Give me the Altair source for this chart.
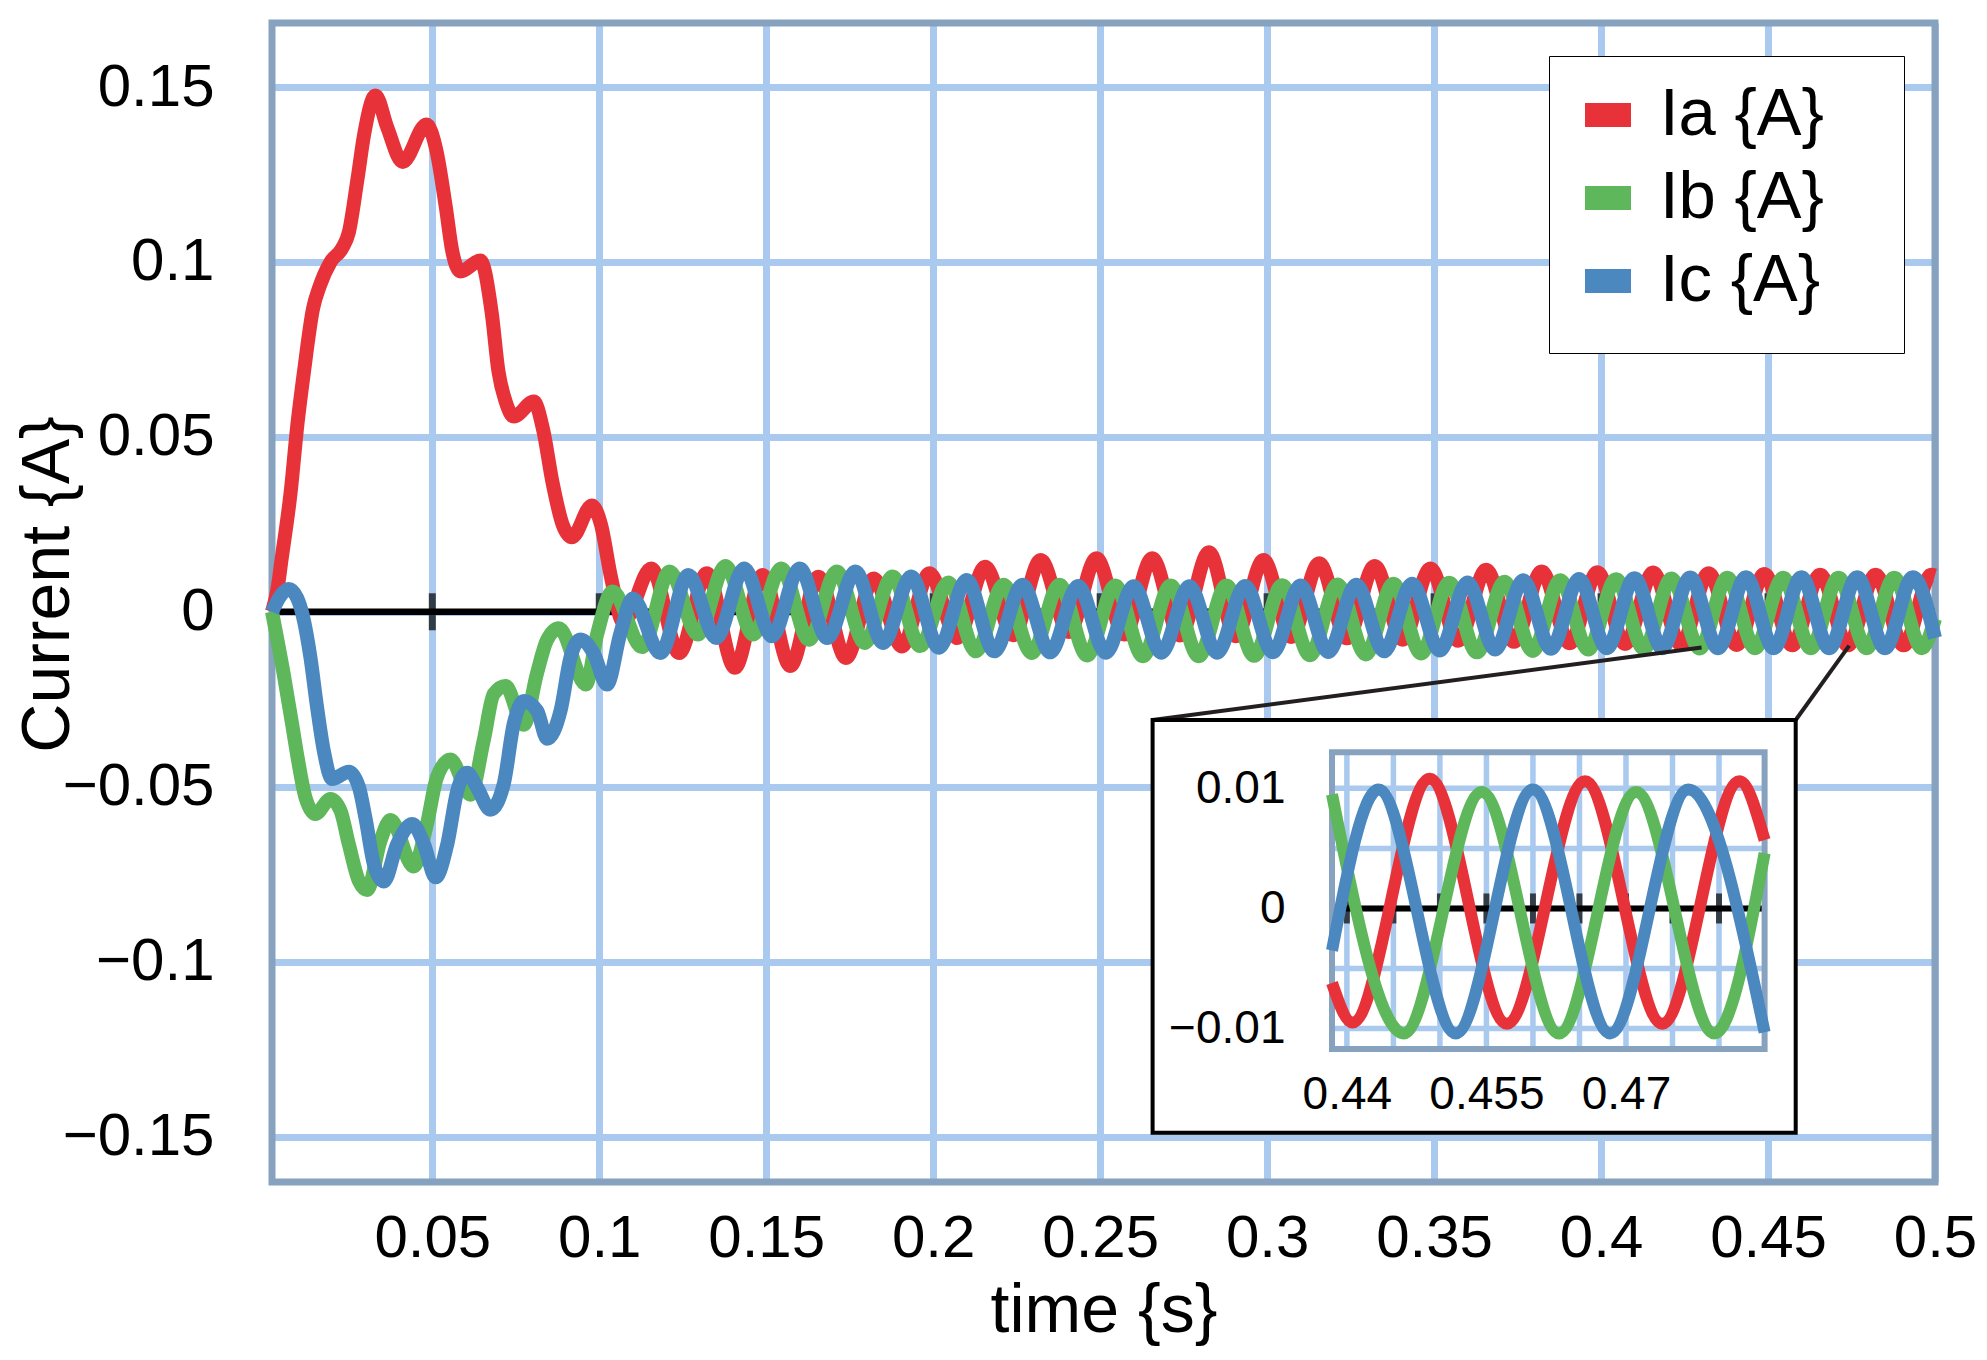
import altair as alt
import pandas as pd

FONT = "Liberation Sans"
NAMES = ["Ia {A}", "Ib {A}", "Ic {A}"]
COLORS = ["#e8323a", "#5eb75b", "#4a88bf"]
GRID_BLUE = "#a9c9ee"
FRAME_BLUE = "#86a2bf"

# plot area in pixels
W, H = 1663, 1159

X_DOMAIN = [0.002, 0.5]
Y_DOMAIN = [-0.163, 0.1683]
X_TICKS = [0.05, 0.1, 0.15, 0.2, 0.25, 0.3, 0.35, 0.4, 0.45, 0.5]
Y_TICKS = [-0.15, -0.1, -0.05, 0, 0.05, 0.1, 0.15]
ZERO_TICKS = [0.05, 0.1, 0.15, 0.2, 0.25, 0.3, 0.35, 0.4, 0.45]

# Ia: transient readings, then the 60 Hz peaks / troughs
IA_T = [0.002, 0.0036, 0.0049, 0.0076, 0.0096, 0.0116, 0.0143, 0.0163, 0.0196, 0.0230,
        0.0250, 0.0276, 0.0296, 0.0330, 0.0365, 0.0411, 0.0483, 0.0512, 0.0540, 0.0560,
        0.0584, 0.0644, 0.0678, 0.0698, 0.0720, 0.0744, 0.0804, 0.0832, 0.0860, 0.0890,
        0.0918, 0.0978, 0.1005, 0.1035, 0.1072,
        0.1156, 0.1239, 0.1322, 0.1406, 0.1489, 0.1572, 0.1656, 0.1739, 0.1822, 0.1906,
        0.1989, 0.2072, 0.2156, 0.2239, 0.2322, 0.2406, 0.2489, 0.2572, 0.2656, 0.2739,
        0.2826, 0.2906, 0.2989, 0.3072, 0.3156, 0.3239, 0.3322, 0.3406, 0.3489, 0.3572,
        0.3656, 0.3739, 0.3822, 0.3906, 0.3989, 0.4072, 0.4156, 0.4239, 0.4322, 0.4406,
        0.4489, 0.4572, 0.4656, 0.4739, 0.4822, 0.4906, 0.4989, 0.5]
IA_V = [0.0, 0.0063, 0.0152, 0.0343, 0.0535, 0.0688, 0.0867, 0.0931, 0.1001, 0.1039,
        0.1084, 0.1237, 0.1365, 0.1476, 0.1385, 0.1286, 0.1393, 0.1320, 0.1160, 0.1030,
        0.0973, 0.1004, 0.0854, 0.0688, 0.0600, 0.0558, 0.0601, 0.0520, 0.0370, 0.0250,
        0.0213, 0.0304, 0.0250, 0.0100, -0.0030,
        0.0124, -0.0118, 0.0110, -0.0160, 0.0105, -0.0155, 0.0100, -0.0132, 0.0095, -0.0099,
        0.0110, -0.0075, 0.0129, -0.0067, 0.0148, -0.0058, 0.0153, -0.0065, 0.0153, -0.0068,
        0.0170, -0.0070, 0.0148, -0.0072, 0.0139, -0.0076, 0.0131, -0.0080, 0.0124, -0.0083,
        0.0120, -0.0086, 0.0115, -0.0090, 0.0113, -0.0092, 0.0112, -0.0094, 0.0110, -0.0095,
        0.0108, -0.0096, 0.0106, -0.0096, 0.0106, -0.0096, 0.0106, 0.0104]

IB_T = [0.002, 0.0055, 0.0080, 0.0100, 0.0120, 0.0150, 0.0195, 0.0225, 0.0250, 0.0280,
        0.0305, 0.0345, 0.0375, 0.0444, 0.0484, 0.0514, 0.0554, 0.0614, 0.0654, 0.0684,
        0.0719, 0.0774, 0.0813, 0.0843, 0.0879, 0.0960, 0.0994, 0.1040,
        0.1128, 0.1211, 0.1295, 0.1378, 0.1461, 0.1545, 0.1628, 0.1711, 0.1795, 0.1878,
        0.1961, 0.2045, 0.2128, 0.2211, 0.2295, 0.2378, 0.2461, 0.2545, 0.2628, 0.2711,
        0.2795, 0.2878, 0.2961, 0.3045, 0.3128, 0.3211, 0.3295, 0.3378, 0.3461, 0.3545,
        0.3628, 0.3711, 0.3795, 0.3878, 0.3961, 0.4045, 0.4128, 0.4211, 0.4295, 0.4378,
        0.4461, 0.4545, 0.4628, 0.4711, 0.4795, 0.4878, 0.4961, 0.5]
IB_V = [0.0, -0.0178, -0.0320, -0.0435, -0.0530, -0.0578, -0.0535, -0.0568, -0.0664, -0.0769,
        -0.0795, -0.0654, -0.0595, -0.0728, -0.0607, -0.0473, -0.0422, -0.0523, -0.0368, -0.0235,
        -0.0212, -0.0323, -0.0178, -0.0082, -0.0047, -0.0208, -0.0063, 0.0058,
        -0.0101, 0.0115, -0.0065, 0.0131, -0.0065, 0.0124, -0.0080, 0.0115, -0.0089, 0.0101,
        -0.0098, 0.0084, -0.0113, 0.0077, -0.0118, 0.0077, -0.0125, 0.0075, -0.0127, 0.0075,
        -0.0127, 0.0075, -0.0126, 0.0076, -0.0124, 0.0078, -0.0122, 0.0080, -0.0119, 0.0083,
        -0.0116, 0.0086, -0.0112, 0.0090, -0.0108, 0.0093, -0.0106, 0.0095, -0.0105, 0.0097,
        -0.0104, 0.0097, -0.0104, 0.0097, -0.0104, 0.0097, -0.0104, -0.0020]

IC_T = [0.002, 0.0045, 0.0070, 0.0095, 0.0112, 0.0135, 0.0155, 0.0175, 0.0200, 0.0250,
        0.0280, 0.0300, 0.0325, 0.0355, 0.0395, 0.0440, 0.0475, 0.0510, 0.0545, 0.0575,
        0.0604, 0.0634, 0.0674, 0.0714, 0.0744, 0.0774, 0.0814, 0.0844, 0.0884, 0.0914,
        0.0944, 0.0984, 0.1023, 0.1063,
        0.1100, 0.1183, 0.1267, 0.1350, 0.1434, 0.1517, 0.1600, 0.1683, 0.1767, 0.1850,
        0.1934, 0.2017, 0.2100, 0.2183, 0.2267, 0.2350, 0.2434, 0.2517, 0.2600, 0.2683,
        0.2767, 0.2850, 0.2934, 0.3017, 0.3100, 0.3183, 0.3267, 0.3350, 0.3434, 0.3517,
        0.3600, 0.3683, 0.3767, 0.3850, 0.3934, 0.4017, 0.4100, 0.4183, 0.4267, 0.4350,
        0.4434, 0.4517, 0.4600, 0.4683, 0.4767, 0.4850, 0.4934, 0.5]
IC_V = [0.0, 0.0045, 0.0065, 0.0040, -0.0010, -0.0130, -0.0273, -0.0397, -0.0478, -0.0457,
        -0.0500, -0.0590, -0.0721, -0.0771, -0.0664, -0.0607, -0.0664, -0.0759, -0.0664, -0.0511,
        -0.0460, -0.0502, -0.0566, -0.0492, -0.0320, -0.0255, -0.0283, -0.0363, -0.0283, -0.0130,
        -0.0079, -0.0120, -0.0208, -0.0063,
        0.0038, -0.0118, 0.0105, -0.0075, 0.0124, -0.0070, 0.0124, -0.0075, 0.0115, -0.0089,
        0.0101, -0.0103, 0.0091, -0.0113, 0.0077, -0.0116, 0.0074, -0.0117, 0.0073, -0.0117,
        0.0073, -0.0117, 0.0074, -0.0116, 0.0075, -0.0115, 0.0077, -0.0113, 0.0080, -0.0111,
        0.0084, -0.0108, 0.0090, -0.0106, 0.0094, -0.0104, 0.0096, -0.0104, 0.0098, -0.0104,
        0.0099, -0.0104, 0.0099, -0.0104, 0.0099, -0.0104, 0.0099, -0.0075]

# inset window and the values read at its left / right edges
INSET_X_DOMAIN = [0.4384, 0.4849]
INSET_Y_DOMAIN = [-0.0117, 0.013]
INSET_X_LABELS = [0.44, 0.455, 0.47]
INSET_Y_LABELS = [-0.01, 0, 0.01]
INSET_GRID_X = [0.44, 0.445, 0.45, 0.455, 0.46, 0.465, 0.47, 0.475, 0.48]
INSET_GRID_Y = [-0.01, -0.005, 0, 0.005, 0.01]
IA_EDGE = [-0.0062, 0.0057]
IB_EDGE = [0.0095, 0.0046]
IC_EDGE = [-0.0035, -0.0103]

# points of the main plot the zoom lines start from
ZOOM_FROM_T = [0.4301, 0.4743]
ZOOM_FROM_I = [-0.0102, -0.0097]

# layout of the inset, pixels inside the plot area: left, right, top, bottom
INSET_PLOT = (1060, 1492.6, 729.3, 1026)
INSET_BOX = (880.6, 1523.7, 697, 1109.7)

SERIES = [(NAMES[0], IA_T, IA_V, IA_EDGE),
          (NAMES[1], IB_T, IB_V, IB_EDGE),
          (NAMES[2], IC_T, IC_V, IC_EDGE)]

main_df = pd.concat(
    [pd.DataFrame({"t": ts, "i": vs, "series": name}) for name, ts, vs, _ in SERIES]
)

inset_parts = []
for name, ts, vs, edge in SERIES:
    lo, hi = INSET_X_DOMAIN
    inner = [(t, v) for t, v in zip(ts, vs) if lo < t < hi]
    rows = [(lo, edge[0])] + inner + [(hi, edge[1])]
    inset_parts.append(
        pd.DataFrame({"t": [r[0] for r in rows], "i": [r[1] for r in rows], "series": name})
    )
inset_df = pd.concat(inset_parts)

one = pd.DataFrame({"k": [0]})

# the blank title on the right only widens the legend box
color = alt.Color(
    "series:N",
    scale=alt.Scale(domain=NAMES, range=COLORS),
    legend=alt.Legend(
        title="\u00a0",
        titleOrient="right",
        titleFontSize=10,
        titlePadding=56,
        orient="none",
        legendX=1277,
        legendY=33,
        direction="vertical",
        labelFont=FONT,
        labelFontSize=67,
        labelColor="black",
        labelLimit=600,
        symbolType="stroke",
        symbolSize=2116,
        symbolStrokeWidth=24,
        padding=24,
        rowPadding=-20.5,
        labelOffset=17,
        strokeColor="black",
        fillColor="white",
    ),
)

# ---------- main plot ----------
x_main = alt.Scale(domain=X_DOMAIN, nice=False, zero=False)
y_main = alt.Scale(domain=Y_DOMAIN, nice=False, zero=False)
x_axis = alt.Axis(
    values=X_TICKS, format="~g", grid=True, labelFontSize=60, labelPadding=27,
    title="time {s}", titleFontSize=68, titleBaseline="alphabetic", titleY=149,
)
y_axis = alt.Axis(
    values=Y_TICKS, format="~g", grid=True, labelFontSize=60, labelPadding=58,
    title="Current {A}", titleFontSize=68, titleBaseline="alphabetic",
    titleX=-204, titleY=561,
)

frame = alt.Chart(one).mark_rect(filled=False, stroke=FRAME_BLUE, strokeWidth=7).encode(
    x=alt.XDatum(X_DOMAIN[0], type="quantitative", scale=x_main, axis=x_axis),
    x2=alt.X2Datum(X_DOMAIN[1]),
    y=alt.YDatum(Y_DOMAIN[0], type="quantitative", scale=y_main, axis=y_axis),
    y2=alt.Y2Datum(Y_DOMAIN[1]),
)
zero_line = alt.Chart(one).mark_rule(color="black", strokeWidth=6.5).encode(
    y=alt.YDatum(0, type="quantitative", scale=y_main, axis=y_axis),
)
zero_ticks = alt.Chart(pd.DataFrame({"t": ZERO_TICKS})).mark_tick(
    orient="vertical", size=37, thickness=7, color="black"
).encode(
    x=alt.X("t:Q", scale=x_main, axis=x_axis),
    y=alt.YDatum(0, type="quantitative", scale=y_main, axis=y_axis),
)
main_lines = alt.Chart(main_df).mark_line(
    interpolate="monotone", strokeWidth=14, strokeJoin="round"
).encode(
    x=alt.X("t:Q", scale=x_main, axis=x_axis),
    y=alt.Y("i:Q", scale=y_main, axis=y_axis),
    color=color,
)
zoom_df = pd.DataFrame({"t": ZOOM_FROM_T, "i": ZOOM_FROM_I})
link_left = alt.Chart(zoom_df.iloc[[0]]).mark_rule(color="#231f20", strokeWidth=4).encode(
    x=alt.X("t:Q", scale=x_main, axis=x_axis),
    y=alt.Y("i:Q", scale=y_main, axis=y_axis),
    x2=alt.value(INSET_BOX[0]),
    y2=alt.value(INSET_BOX[2]),
)
link_right = alt.Chart(zoom_df.iloc[[1]]).mark_rule(color="#231f20", strokeWidth=4).encode(
    x=alt.X("t:Q", scale=x_main, axis=x_axis),
    y=alt.Y("i:Q", scale=y_main, axis=y_axis),
    x2=alt.value(INSET_BOX[1]),
    y2=alt.value(INSET_BOX[2]),
)
main = alt.layer(frame, zero_line, zero_ticks, main_lines, link_left, link_right)

# ---------- inset ----------
x_in = alt.Scale(domain=INSET_X_DOMAIN, range=[INSET_PLOT[0], INSET_PLOT[1]], nice=False, zero=False)
y_in = alt.Scale(domain=INSET_Y_DOMAIN, range=[INSET_PLOT[3], INSET_PLOT[2]], nice=False, zero=False)
x_axis_in = alt.Axis(
    orient="bottom", offset=INSET_PLOT[3] - H, values=INSET_X_LABELS, format=".4~g",
    grid=False, labelFontSize=46, labelPadding=23, title=None, zindex=2,
)
y_axis_in = alt.Axis(
    orient="left", offset=-INSET_PLOT[0], values=INSET_Y_LABELS, format=".4~g",
    grid=False, labelFontSize=46, labelPadding=47, title=None, zindex=2,
)

box = alt.Chart(one).mark_rect(fill="white", stroke="black", strokeWidth=4).encode(
    x=alt.value(INSET_BOX[0]),
    x2=alt.value(INSET_BOX[1]),
    y=alt.value(INSET_BOX[2]),
    y2=alt.value(INSET_BOX[3]),
)
grid_v = alt.Chart(pd.DataFrame({"t": INSET_GRID_X})).mark_rule(color=GRID_BLUE, strokeWidth=5.5).encode(
    x=alt.X("t:Q", scale=x_in, axis=x_axis_in),
    y=alt.YDatum(INSET_Y_DOMAIN[0], type="quantitative", scale=y_in, axis=y_axis_in),
    y2=alt.Y2Datum(INSET_Y_DOMAIN[1]),
)
grid_h = alt.Chart(pd.DataFrame({"i": INSET_GRID_Y})).mark_rule(color=GRID_BLUE, strokeWidth=5.5).encode(
    x=alt.XDatum(INSET_X_DOMAIN[0], type="quantitative", scale=x_in, axis=x_axis_in),
    x2=alt.X2Datum(INSET_X_DOMAIN[1]),
    y=alt.Y("i:Q", scale=y_in, axis=y_axis_in),
)
zero_in = alt.Chart(one).mark_rule(color="black", strokeWidth=6).encode(
    x=alt.XDatum(INSET_X_DOMAIN[0], type="quantitative", scale=x_in, axis=x_axis_in),
    x2=alt.X2Datum(INSET_X_DOMAIN[1]),
    y=alt.YDatum(0, type="quantitative", scale=y_in, axis=y_axis_in),
)
ticks_in = alt.Chart(pd.DataFrame({"t": INSET_GRID_X})).mark_tick(
    orient="vertical", size=30, thickness=6, color="black"
).encode(
    x=alt.X("t:Q", scale=x_in, axis=x_axis_in),
    y=alt.YDatum(0, type="quantitative", scale=y_in, axis=y_axis_in),
)
frame_in = alt.Chart(one).mark_rect(filled=False, stroke=FRAME_BLUE, strokeWidth=6).encode(
    x=alt.XDatum(INSET_X_DOMAIN[0], type="quantitative", scale=x_in, axis=x_axis_in),
    x2=alt.X2Datum(INSET_X_DOMAIN[1]),
    y=alt.YDatum(INSET_Y_DOMAIN[0], type="quantitative", scale=y_in, axis=y_axis_in),
    y2=alt.Y2Datum(INSET_Y_DOMAIN[1]),
)
inset_lines = alt.Chart(inset_df).mark_line(
    interpolate="monotone", strokeWidth=12, strokeJoin="round"
).encode(
    x=alt.X("t:Q", scale=x_in, axis=x_axis_in),
    y=alt.Y("i:Q", scale=y_in, axis=y_axis_in),
    color=color,
)
inset = alt.layer(box, grid_v, grid_h, zero_in, ticks_in, frame_in, inset_lines)

chart = (
    alt.layer(main, inset)
    .resolve_scale(x="independent", y="independent")
    .properties(
        width=W,
        height=H,
        autosize=alt.AutoSizeParams(type="none"),
        padding={"left": 264, "top": 15, "right": 44, "bottom": 170},
    )
    .configure_view(strokeWidth=0)
    .configure_axis(
        labelFont=FONT, titleFont=FONT, labelColor="black", titleColor="black",
        titleFontWeight="normal", domain=False, ticks=False, tickSize=0,
        labelFlush=False, labelOverlap=False, gridColor=GRID_BLUE, gridWidth=7,
        gridOpacity=1,
    )
)

chart.save("out.html", embed_options={"renderer": "svg", "actions": False})
